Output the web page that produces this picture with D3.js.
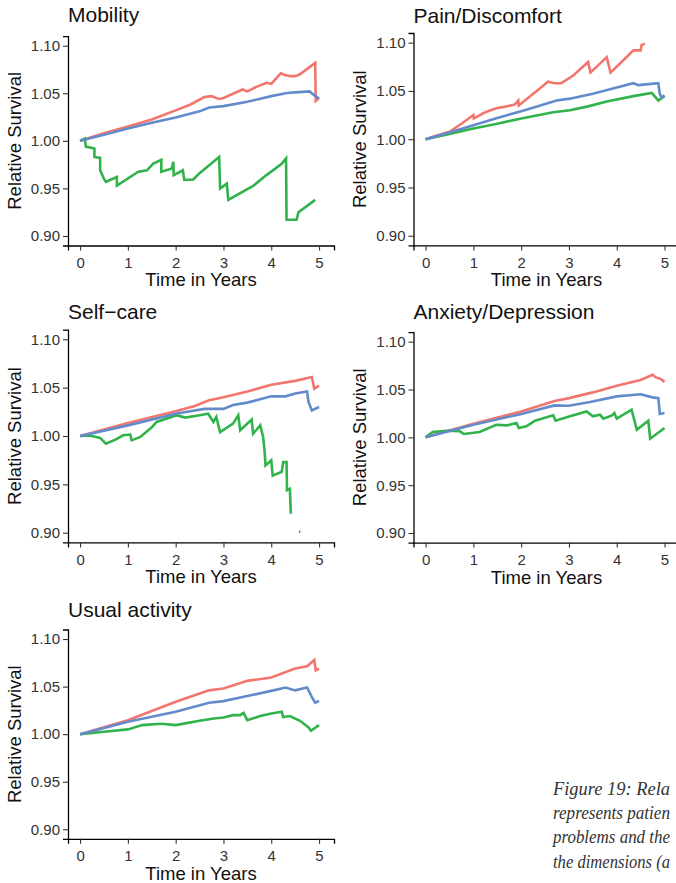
<!DOCTYPE html>
<html>
<head>
<meta charset="utf-8">
<script src="https://cdn.jsdelivr.net/npm/d3@7"></script>
<style>
  body { margin: 0; background: #fff; overflow: hidden; }
</style>
</head>
<body>
<div id="chart"></div>
<script>
// Tick values shared by every panel
const xTicks = [0, 1, 2, 3, 4, 5];
const yTicks = [0.90, 0.95, 1.00, 1.05, 1.10];

const titles = ["Mobility", "Pain/Discomfort", "Self\u2212care", "Anxiety/Depression", "Usual activity"];

// Relative survival curves, [years, ratio]; repeated x = drop at an event
const mobilityRed = [[0,1.000],[0.5,1.008],[1,1.015],[1.5,1.0225],[2,1.032],[2.3,1.038],[2.6,1.046],[2.75,1.047],[2.9,1.044],[3.0,1.045],[3.4,1.054],[3.5,1.052],[3.7,1.057],[3.9,1.061],[4.0,1.060],[4.2,1.071],[4.3,1.069],[4.4,1.068],[4.5,1.068],[4.6,1.070],[4.92,1.082],[4.93,1.042],[5.0,1.045]];
const mobilityGreen = [[0,1.000],[0.1,1.0025],[0.12,0.994],[0.3,0.992],[0.3,0.983],[0.42,0.982],[0.42,0.969],[0.5,0.960],[0.54,0.957],[0.77,0.962],[0.77,0.953],[1.22,0.9675],[1.4,0.969],[1.53,0.976],[1.7,0.980],[1.7,0.9675],[1.92,0.971],[1.95,0.978],[1.96,0.964],[2.15,0.969],[2.18,0.959],[2.37,0.9594],[2.5,0.966],[2.79,0.978],[2.91,0.983],[2.93,0.950],[3.07,0.955],[3.10,0.938],[3.63,0.953],[3.9,0.964],[4.22,0.976],[4.31,0.9815],[4.32,0.917],[4.53,0.917],[4.57,0.925],[4.92,0.938]];
const mobilityBlue = [[0,1.000],[0.5,1.0065],[1,1.013],[1.5,1.019],[2,1.0245],[2.5,1.031],[2.7,1.035],[3,1.0365],[3.5,1.041],[4,1.047],[4.3,1.050],[4.5,1.051],[4.8,1.052],[4.9,1.048],[5.0,1.0445]];

const painRed = [[0,1.000],[0.25,1.004],[0.5,1.0076],[0.75,1.016],[1.0,1.025],[1.01,1.0215],[1.25,1.028],[1.48,1.032],[1.7,1.034],[1.87,1.036],[1.94,1.040],[1.95,1.035],[2.2,1.045],[2.39,1.0526],[2.56,1.0595],[2.7,1.058],[2.84,1.058],[3.09,1.066],[3.4,1.080],[3.45,1.069],[3.79,1.085],[3.87,1.069],[4.1,1.080],[4.35,1.092],[4.5,1.092],[4.52,1.0976],[4.59,1.099]];
const painGreen = [[0,1.000],[0.5,1.0055],[1,1.011],[1.5,1.016],[2,1.0215],[2.67,1.028],[3.02,1.030],[3.4,1.034],[3.79,1.039],[4.35,1.0446],[4.73,1.048],[4.8,1.044],[4.87,1.040],[5.0,1.0446]];
const painBlue = [[0,1.000],[0.5,1.007],[1,1.0145],[1.5,1.022],[2,1.029],[2.4,1.035],[2.74,1.040],[3.02,1.042],[3.5,1.047],[4.0,1.0535],[4.35,1.058],[4.45,1.056],[4.87,1.058],[4.9,1.047],[4.94,1.043],[5.0,1.0455]];

const selfCareRed = [[0,1.000],[1,1.0135],[2,1.0255],[2.4,1.031],[2.7,1.037],[3,1.040],[3.5,1.046],[4,1.053],[4.5,1.057],[4.85,1.061],[4.9,1.049],[5.0,1.052]];
const selfCareGreen = [[0,1.000],[0.2,1.0005],[0.42,0.998],[0.54,0.992],[0.75,0.9965],[0.9,1.0007],[1.05,1.0015],[1.08,0.9955],[1.26,0.999],[1.5,1.009],[1.6,1.0145],[2.02,1.0215],[2.2,1.019],[2.5,1.0215],[2.68,1.023],[2.79,1.0145],[2.85,1.0197],[2.93,1.004],[3.2,1.0128],[3.31,1.0214],[3.35,1.0059],[3.59,1.017],[3.62,1.0024],[3.77,1.011],[3.83,0.999],[3.86,0.985],[3.88,0.9696],[4.0,0.975],[4.03,0.959],[4.22,0.963],[4.25,0.973],[4.32,0.973],[4.33,0.944],[4.39,0.9455],[4.41,0.9196],[4.5,null],[4.58,0.901],[4.61,0.901]];
const selfCareBlue = [[0,1.000],[1,1.011],[2,1.023],[2.6,1.028],[3.0,1.028],[3.2,1.032],[3.5,1.0345],[4,1.041],[4.3,1.041],[4.5,1.044],[4.75,1.046],[4.78,1.035],[4.85,1.0265],[5.0,1.030]];

const anxietyRed = [[0,1.000],[1,1.0143],[2,1.027],[2.7,1.038],[3,1.041],[3.5,1.047],[4,1.054],[4.5,1.060],[4.75,1.0654],[4.82,1.0626],[4.92,1.061],[5.0,1.058]];
const anxietyGreen = [[0,1.000],[0.15,1.0056],[0.5,1.007],[0.72,1.0063],[0.8,1.0035],[1.13,1.0056],[1.48,1.0132],[1.7,1.0125],[1.9,1.015],[1.95,1.0097],[2.11,1.0115],[2.29,1.0174],[2.67,1.023],[2.72,1.0174],[3.02,1.022],[3.37,1.027],[3.5,1.022],[3.65,1.0237],[3.72,1.0195],[3.9,1.023],[3.95,1.0254],[4.0,1.0195],[4.31,1.0289],[4.42,1.008],[4.66,1.0174],[4.7,0.9986],[5.0,1.0097]];
const anxietyBlue = [[0,1.000],[1,1.0132],[2,1.0244],[2.7,1.0334],[3,1.033],[3.44,1.037],[4,1.0428],[4.5,1.045],[4.75,1.0418],[4.87,1.041],[4.9,1.0244],[5.0,1.0254]];

const usualRed = [[0,1.000],[1,1.0147],[2,1.034],[2.7,1.046],[3,1.048],[3.5,1.056],[4,1.0595],[4.5,1.069],[4.75,1.0714],[4.9,1.078],[4.93,1.067],[5.0,1.069]];
const usualGreen = [[0,1.000],[0.5,1.0025],[1,1.005],[1.3,1.0095],[1.7,1.011],[2,1.0095],[2.5,1.014],[2.8,1.0165],[3,1.0175],[3.2,1.020],[3.35,1.020],[3.42,1.0224],[3.5,1.0147],[3.77,1.019],[4,1.0217],[4.22,1.0235],[4.25,1.018],[4.39,1.019],[4.6,1.014],[4.78,1.007],[4.83,1.0035],[5.0,1.0095]];
const usualBlue = [[0,1.000],[1,1.013],[2,1.0235],[2.7,1.033],[3,1.0347],[3.5,1.040],[4,1.0455],[4.3,1.049],[4.5,1.046],[4.75,1.049],[4.85,1.039],[4.92,1.033],[5.0,1.035]];

const panelSeries = [
  [mobilityRed, mobilityGreen, mobilityBlue],
  [painRed, painGreen, painBlue],
  [selfCareRed, selfCareGreen, selfCareBlue],
  [anxietyRed, anxietyGreen, anxietyBlue],
  [usualRed, usualGreen, usualBlue]
];

// caption fragment at the page edge
const captionLines = ["Figure 19: Rela", "represents patien", "problems and the", "the dimensions (a"];

// ---- layout ----
const W = 676, H = 883;
const colors = ["#F2766E", "#2FB34A", "#638BCB"];
const panelW = 266;
const boxes = [
  { left: 68,    top: 36.2,  height: 209.3, titleY: 22 },
  { left: 413.5, top: 33,    height: 212.4, titleY: 23 },
  { left: 68,    top: 329.6, height: 212.8, titleY: 319 },
  { left: 413.5, top: 332.1, height: 210.5, titleY: 319 },
  { left: 68,    top: 629.5, height: 209.3, titleY: 617 }
];

const font = "'Liberation Sans', Arial, Helvetica, sans-serif";

const svg = d3.select("#chart").append("svg")
  .attr("width", W)
  .attr("height", H)
  .style("font-family", font);

boxes.forEach((b, i) => {
  const g = svg.append("g").attr("transform", `translate(${b.left},${b.top})`);

  const x = d3.scaleLinear().domain([-0.253, 5.313]).range([0, panelW]);
  const y = d3.scaleLinear().domain([0.89, 1.11]).range([b.height, 0]);

  // curves: red, green, blue
  const line = d3.line()
    .defined(d => d[1] !== null)
    .x(d => x(d[0]))
    .y(d => y(d[1]));

  g.selectAll("path.curve")
    .data(panelSeries[i])
    .enter().append("path")
      .attr("class", "curve")
      .attr("d", line)
      .attr("fill", "none")
      .attr("stroke", (d, k) => colors[k])
      .attr("stroke-width", 2.6)
      .attr("stroke-linejoin", "miter")
      .attr("stroke-linecap", "butt");

  // axes
  const xAxis = g.append("g")
    .attr("transform", `translate(0,${b.height})`)
    .call(d3.axisBottom(x).tickValues(xTicks).tickFormat(d3.format("d")).tickSize(5).tickPadding(3));
  const yAxis = g.append("g")
    .call(d3.axisLeft(y).tickValues(yTicks).tickFormat(d3.format(".2f")).tickSize(5).tickPadding(3));

  [xAxis, yAxis].forEach(ax => {
    ax.select(".domain").attr("stroke", "#000").attr("stroke-width", 1.3);
    ax.selectAll(".tick line").attr("stroke", "#333").attr("stroke-width", 1.1);
    ax.selectAll(".tick text")
      .attr("fill", "#333")
      .style("font-size", "15px")
      .style("font-family", font);
  });
  xAxis.selectAll(".tick text").attr("dy", "0.95em");

  // titles
  svg.append("text")
    .attr("x", b.left)
    .attr("y", b.titleY)
    .attr("fill", "#111")
    .style("font-size", "21px")
    .text(titles[i]);

  g.append("text")
    .attr("x", panelW / 2)
    .attr("y", b.height + 41)
    .attr("text-anchor", "middle")
    .attr("fill", "#111")
    .style("font-size", "18.5px")
    .text("Time in Years");

  g.append("text")
    .attr("transform", `translate(-47.5,${b.height / 2}) rotate(-90)`)
    .attr("text-anchor", "middle")
    .attr("fill", "#111")
    .style("font-size", "18.5px")
    .text("Relative Survival");
});

// caption
svg.append("g")
  .selectAll("text")
  .data(captionLines)
  .enter().append("text")
    .attr("x", 553)
    .attr("y", (d, i) => 795 + i * 24.2)
    .attr("fill", "#333")
    .attr("textLength", 117)
    .attr("lengthAdjust", "spacingAndGlyphs")
    .style("font-family", "'Liberation Serif', 'Times New Roman', serif")
    .style("font-style", "italic")
    .style("font-size", "18px")
    .text(d => d);
</script>
</body>
</html>
